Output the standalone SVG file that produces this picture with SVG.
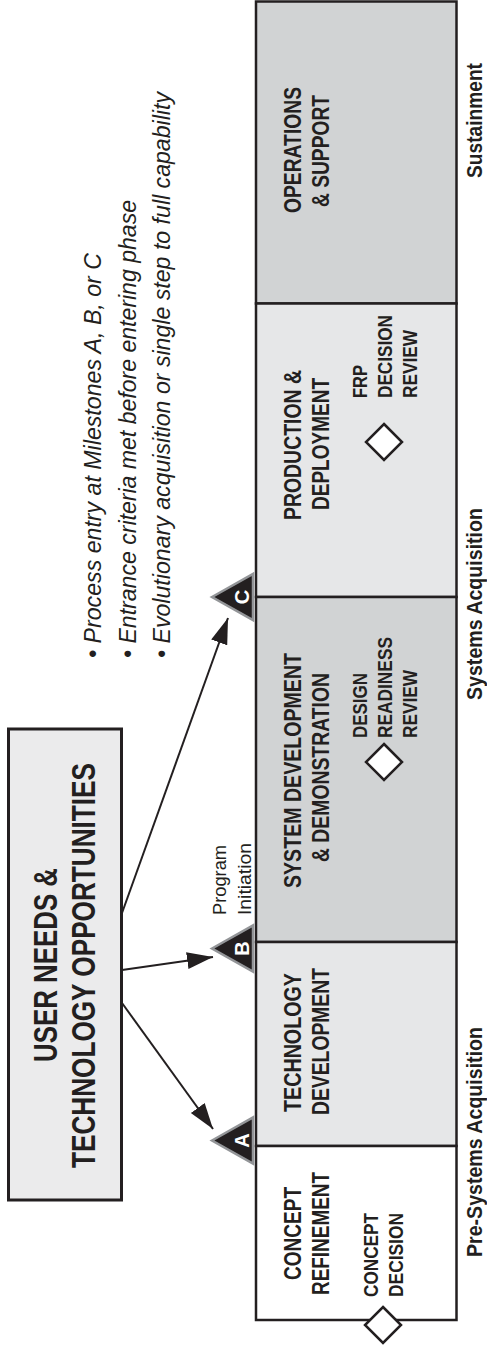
<svg xmlns="http://www.w3.org/2000/svg" width="487" height="1345" viewBox="0 0 487 1345">
<style>
text{font-family:"Liberation Sans",Arial,sans-serif;fill:#231f20}
.ph{font-weight:bold;font-size:24px}
.sub{font-weight:bold;font-size:21px}
.big{font-weight:bold;font-size:33px}
.era{font-weight:bold;font-size:22px}
.it{font-style:italic;font-size:23px}
.pi{font-size:18px}
.ms{font-weight:bold;font-size:20px;fill:#ffffff}
.box{stroke:#231f20;stroke-width:2.5}
.dia{fill:#ffffff;stroke:#231f20;stroke-width:2.5}
.tri{fill:#231f20;stroke:#939598;stroke-width:2.5;stroke-linejoin:miter}
.con{stroke:#231f20;stroke-width:2;fill:none}
</style>
<defs>
<marker id="ah" markerUnits="userSpaceOnUse" markerWidth="27" markerHeight="19" refX="26" refY="8.5" orient="auto" viewBox="0 0 27 17">
<path d="M0,0 L26,8.5 L0,17 Z" fill="#231f20"/>
</marker>
</defs>

<g id="phase-operations">
<rect class="box" x="256" y="1.5" width="200.5" height="302" fill="#d1d3d4"/>
<text class="ph" transform="translate(301,150) rotate(-90)" text-anchor="middle" textLength="126" lengthAdjust="spacingAndGlyphs">OPERATIONS</text>
<text class="ph" transform="translate(329,151) rotate(-90)" text-anchor="middle" textLength="112" lengthAdjust="spacingAndGlyphs">&amp; SUPPORT</text>
</g>

<g id="phase-production">
<rect class="box" x="256" y="303.5" width="200.5" height="293.5" fill="#e6e7e8"/>
<text class="ph" transform="translate(301,445) rotate(-90)" text-anchor="middle" textLength="150" lengthAdjust="spacingAndGlyphs">PRODUCTION &amp;</text>
<text class="ph" transform="translate(329,444) rotate(-90)" text-anchor="middle" textLength="132" lengthAdjust="spacingAndGlyphs">DEPLOYMENT</text>
</g>

<g id="phase-sdd">
<rect class="box" x="256" y="597" width="200.5" height="345" fill="#d1d3d4"/>
<text class="ph" transform="translate(301,770.5) rotate(-90)" text-anchor="middle" textLength="235" lengthAdjust="spacingAndGlyphs">SYSTEM DEVELOPMENT</text>
<text class="ph" transform="translate(329,767.5) rotate(-90)" text-anchor="middle" textLength="189" lengthAdjust="spacingAndGlyphs">&amp; DEMONSTRATION</text>
</g>

<g id="phase-tech">
<rect class="box" x="256" y="942" width="200.5" height="204" fill="#e6e7e8"/>
<text class="ph" transform="translate(301,1042.5) rotate(-90)" text-anchor="middle" textLength="139" lengthAdjust="spacingAndGlyphs">TECHNOLOGY</text>
<text class="ph" transform="translate(329,1041.5) rotate(-90)" text-anchor="middle" textLength="147" lengthAdjust="spacingAndGlyphs">DEVELOPMENT</text>
</g>

<g id="phase-concept">
<rect class="box" x="256" y="1146" width="200.5" height="174" fill="#ffffff"/>
<text class="ph" transform="translate(301,1233.5) rotate(-90)" text-anchor="middle" textLength="93" lengthAdjust="spacingAndGlyphs">CONCEPT</text>
<text class="ph" transform="translate(329,1233.5) rotate(-90)" text-anchor="middle" textLength="123" lengthAdjust="spacingAndGlyphs">REFINEMENT</text>
</g>

<g id="review-frp">
<polygon class="dia" points="384,424 402,442 384,460 366,442"/>
<text class="sub" transform="translate(367,398) rotate(-90)" textLength="33" lengthAdjust="spacingAndGlyphs">FRP</text>
<text class="sub" transform="translate(392,398) rotate(-90)" textLength="83" lengthAdjust="spacingAndGlyphs">DECISION</text>
<text class="sub" transform="translate(417,398) rotate(-90)" textLength="68" lengthAdjust="spacingAndGlyphs">REVIEW</text>
</g>

<g id="review-design">
<polygon class="dia" points="384,744 402,762 384,780 366,762"/>
<text class="sub" transform="translate(367,738) rotate(-90)" textLength="65" lengthAdjust="spacingAndGlyphs">DESIGN</text>
<text class="sub" transform="translate(392,738) rotate(-90)" textLength="101" lengthAdjust="spacingAndGlyphs">READINESS</text>
<text class="sub" transform="translate(417,738) rotate(-90)" textLength="68" lengthAdjust="spacingAndGlyphs">REVIEW</text>
</g>

<g id="review-concept">
<polygon class="dia" points="383,1307 401,1325 383,1343 365,1325"/>
<text class="sub" transform="translate(378,1297) rotate(-90)" textLength="84" lengthAdjust="spacingAndGlyphs">CONCEPT</text>
<text class="sub" transform="translate(403,1297) rotate(-90)" textLength="84" lengthAdjust="spacingAndGlyphs">DECISION</text>
</g>

<g id="user-needs">
<rect x="8.5" y="729" width="113" height="471" fill="#ebebec" stroke="#231f20" stroke-width="3"/>
<text class="big" transform="translate(57,965) rotate(-90)" text-anchor="middle" textLength="194" lengthAdjust="spacingAndGlyphs">USER NEEDS &amp;</text>
<text class="big" transform="translate(95,965.5) rotate(-90)" text-anchor="middle" textLength="405" lengthAdjust="spacingAndGlyphs">TECHNOLOGY OPPORTUNITIES</text>
</g>

<g id="milestone-a">
<polygon class="tri" points="212,1140.5 253,1117.5 253,1163.5"/>
<text class="ms" transform="translate(249,1140.5) rotate(-90)" text-anchor="middle">A</text>
</g>

<g id="milestone-b">
<polygon class="tri" points="212,948.5 253,925.5 253,971.5"/>
<text class="ms" transform="translate(249,948.5) rotate(-90)" text-anchor="middle">B</text>
</g>

<g id="milestone-c">
<polygon class="tri" points="212,597 253,574 253,620"/>
<text class="ms" transform="translate(249,597) rotate(-90)" text-anchor="middle">C</text>
</g>

<g id="program-initiation">
<text class="pi" transform="translate(226,915) rotate(-90)" textLength="70" lengthAdjust="spacingAndGlyphs">Program</text>
<text class="pi" transform="translate(251,915) rotate(-90)" textLength="72" lengthAdjust="spacingAndGlyphs">Initiation</text>
</g>

<g id="notes">
<text class="it" transform="translate(101,658) rotate(-90)" textLength="405" lengthAdjust="spacingAndGlyphs">• Process entry at Milestones A, B, or C</text>
<text class="it" transform="translate(136,658) rotate(-90)" textLength="458" lengthAdjust="spacingAndGlyphs">• Entrance criteria met before entering phase</text>
<text class="it" transform="translate(170,658) rotate(-90)" textLength="566" lengthAdjust="spacingAndGlyphs">• Evolutionary acquisition or single step to full capability</text>
</g>

<g id="eras">
<text class="era" transform="translate(482,120.5) rotate(-90)" text-anchor="middle" textLength="115" lengthAdjust="spacingAndGlyphs">Sustainment</text>
<text class="era" transform="translate(482,604) rotate(-90)" text-anchor="middle" textLength="192" lengthAdjust="spacingAndGlyphs">Systems Acquisition</text>
<text class="era" transform="translate(482,1142) rotate(-90)" text-anchor="middle" textLength="230" lengthAdjust="spacingAndGlyphs">Pre-Systems Acquisition</text>
</g>

<g id="connectors">
<line class="con" x1="122" y1="1003" x2="213" y2="1129" marker-end="url(#ah)"/>
<line class="con" x1="122" y1="970" x2="213" y2="957" marker-end="url(#ah)"/>
<line class="con" x1="122" y1="913" x2="228" y2="618" marker-end="url(#ah)"/>
</g>
</svg>
